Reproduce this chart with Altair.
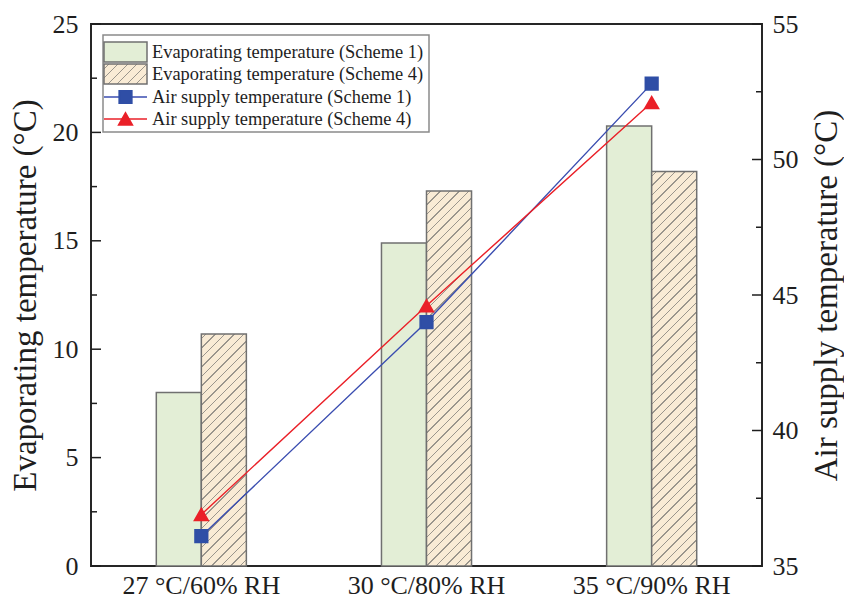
import math
import altair as alt
import pandas as pd

# ---------------- data ----------------
categories = ["27 °C/60% RH", "30 °C/80% RH", "35 °C/90% RH"]
evap_s1 = [8.0, 14.9, 20.3]
evap_s4 = [10.7, 17.3, 18.2]
air_s1 = [36.1, 44.0, 52.8]
air_s4 = [36.9, 44.6, 52.1]
left_major = [0, 5, 10, 15, 20, 25]
left_minor = [2.5, 7.5, 12.5, 17.5, 22.5]
right_major = [35, 40, 45, 50, 55]
right_minor = [37.5, 42.5, 47.5, 52.5]
legend_labels = [
    "Evaporating temperature (Scheme 1)",
    "Evaporating temperature (Scheme 4)",
    "Air supply temperature (Scheme 1)",
    "Air supply temperature (Scheme 4)",
]

# ---------------- style ----------------
W, H = 671, 542
FONT = "Liberation Serif"
GREEN = "#e3eed6"
BEIGE = "#f9ebd5"
HATCH = "#9a958c"
EDGE = "#707070"
BLUE = "#3a4db0"
BLUE_M = "#2f4ea6"
RED = "#ea2028"
DARK = "#1e1e1e"
LEFT_DOM = [0, 25]
RIGHT_DOM = [35, 55]
LABEL_SIZE = 26
TITLE_SIZE = 33


def hatch_fill(w, h, period=9.5, lw=1.0):
    total = w + h
    half = lw * math.sqrt(2) / 2
    stops = [{"offset": 0, "color": BEIGE}]
    c = period / 2
    while c - half < total:
        a = max(0.0, (c - half) / total)
        b = min(1.0, (c + half) / total)
        stops += [
            {"offset": a, "color": BEIGE},
            {"offset": a, "color": HATCH},
            {"offset": b, "color": HATCH},
            {"offset": b, "color": BEIGE},
        ]
        c += period
    stops.append({"offset": 1, "color": BEIGE})
    k = total / (w * w + h * h)
    return {"gradient": "linear", "stops": stops, "x1": 0, "y1": 0, "x2": k * w, "y2": k * h}


bars = pd.DataFrame(
    [{"category": c, "series": "S1", "value": v} for c, v in zip(categories, evap_s1)]
    + [{"category": c, "series": "S4", "value": v} for c, v in zip(categories, evap_s4)]
)
lines = pd.DataFrame(
    [{"category": c, "series": "S1", "value": v} for c, v in zip(categories, air_s1)]
    + [{"category": c, "series": "S4", "value": v} for c, v in zip(categories, air_s4)]
)
lmaj = pd.DataFrame({"value": left_major})
lmin = pd.DataFrame({"value": left_minor})
rmaj = pd.DataFrame({"value": right_major})
rmin = pd.DataFrame({"value": right_minor})
one = pd.DataFrame({"k": [0]})

xenc = alt.X(
    "category:N",
    sort=categories,
    scale=alt.Scale(paddingInner=0.6, paddingOuter=0.29),
    axis=alt.Axis(
        title=None, labelAngle=0, domain=False, ticks=False, tickSize=0,
        labelPadding=6, labelFont=FONT, labelFontSize=LABEL_SIZE, labelColor=DARK,
    ),
)
xoff = alt.XOffset("series:N", scale=alt.Scale(domain=["S1", "S4"], paddingInner=0, paddingOuter=0))

yL = alt.Y(
    "value:Q",
    scale=alt.Scale(domain=LEFT_DOM, nice=False, zero=False),
    axis=alt.Axis(
        orient="left", values=left_major, format="d", domain=False, ticks=False, tickSize=0,
        grid=False, labelPadding=13, labelFont=FONT, labelFontSize=LABEL_SIZE, labelColor=DARK,
        title="Evaporating temperature (°C)", titleFont=FONT, titleFontSize=TITLE_SIZE,
        titleFontWeight="normal", titleColor=DARK, titlePadding=10,
    ),
)
yR = alt.Y(
    "value:Q",
    scale=alt.Scale(domain=RIGHT_DOM, nice=False, zero=False),
    axis=alt.Axis(
        orient="right", values=right_major, format="d", domain=False, ticks=False, tickSize=0,
        grid=False, labelPadding=10, labelFont=FONT, labelFontSize=LABEL_SIZE, labelColor=DARK,
        title="Air supply temperature (°C)", titleFont=FONT, titleFontSize=TITLE_SIZE,
        titleFontWeight="normal", titleColor=DARK, titlePadding=12,
        titleAngle=270, titleBaseline="top",
    ),
)

step = W / (3 - 0.6 + 2 * 0.29)
bar_w = step * (1 - 0.6) / 2

left_layers = []
left_layers.append(
    alt.Chart(bars).transform_filter(alt.datum.series == "S1")
    .mark_bar(fill=GREEN, stroke=EDGE, strokeWidth=1.5)
    .encode(x=xenc, xOffset=xoff, y=yL)
)
for c, v in zip(categories, evap_s4):
    h = (v - LEFT_DOM[0]) / (LEFT_DOM[1] - LEFT_DOM[0]) * H
    left_layers.append(
        alt.Chart(bars)
        .transform_filter((alt.datum.series == "S4") & (alt.datum.category == c))
        .mark_bar(fill=hatch_fill(bar_w, h), stroke=EDGE, strokeWidth=1.5)
        .encode(x=xenc, xOffset=xoff, y=yL)
    )
left_layers.append(
    alt.Chart(lmaj).mark_rule(color=DARK, strokeWidth=1.5)
    .encode(y=yL, x=alt.value(0), x2=alt.value(10))
)
left_layers.append(
    alt.Chart(lmin).mark_rule(color=DARK, strokeWidth=1.5)
    .encode(y=yL, x=alt.value(0), x2=alt.value(6))
)
left = alt.layer(*left_layers)

right_layers = []
for s, col, mcol, shape, size in [("S1", BLUE, BLUE_M, "square", 150), ("S4", RED, RED, "triangle-up", 170)]:
    base = alt.Chart(lines).transform_filter(alt.datum.series == s)
    right_layers.append(base.mark_line(color=col, strokeWidth=1.4).encode(x=xenc, y=yR))
    right_layers.append(
        base.mark_point(shape=shape, filled=True, fill=mcol, stroke=mcol, size=size, opacity=1)
        .encode(x=xenc, y=yR)
    )
right_layers.append(
    alt.Chart(rmaj).mark_rule(color=DARK, strokeWidth=1.5)
    .encode(y=yR, x=alt.value(W), x2=alt.value(W - 10))
)
right_layers.append(
    alt.Chart(rmin).mark_rule(color=DARK, strokeWidth=1.5)
    .encode(y=yR, x=alt.value(W), x2=alt.value(W - 6))
)

# ---------------- legend (drawn in plot pixels) ----------------
LX0, LX1, LY0, LY1 = 12, 338, 11, 108
rows_y = [28, 50, 73, 95]
SW0, SW1 = 13, 56
TX = 61
right_layers.append(
    alt.Chart(one).mark_rect(fill="white", stroke="#8a8a8a", strokeWidth=1.5)
    .encode(x=alt.value(LX0), x2=alt.value(LX1), y=alt.value(LY0), y2=alt.value(LY1))
)
right_layers.append(
    alt.Chart(one).mark_rect(fill=GREEN, stroke=EDGE, strokeWidth=1.5)
    .encode(x=alt.value(SW0), x2=alt.value(SW1), y=alt.value(rows_y[0] - 10), y2=alt.value(rows_y[0] + 10))
)
right_layers.append(
    alt.Chart(one).mark_rect(fill=hatch_fill(SW1 - SW0, 20), stroke=EDGE, strokeWidth=1.5)
    .encode(x=alt.value(SW0), x2=alt.value(SW1), y=alt.value(rows_y[1] - 10), y2=alt.value(rows_y[1] + 10))
)
for i, (col, mcol, shape, size) in enumerate([(BLUE, BLUE_M, "square", 150), (RED, RED, "triangle-up", 170)]):
    ry = rows_y[2 + i]
    right_layers.append(
        alt.Chart(one).mark_rule(color=col, strokeWidth=1.4)
        .encode(x=alt.value(SW0), x2=alt.value(SW1), y=alt.value(ry))
    )
    right_layers.append(
        alt.Chart(one).mark_point(shape=shape, filled=True, fill=mcol, stroke=mcol, size=size, opacity=1)
        .encode(x=alt.value((SW0 + SW1) / 2), y=alt.value(ry))
    )
for i, lab in enumerate(legend_labels):
    right_layers.append(
        alt.Chart(one).mark_text(
            align="left", baseline="middle", font=FONT, fontSize=18.4, color=DARK, text=lab
        ).encode(x=alt.value(TX), y=alt.value(rows_y[i]))
    )

right = alt.layer(*right_layers)

chart = (
    alt.layer(left, right)
    .resolve_scale(y="independent")
    .properties(
        width=W,
        height=H,
        autosize=alt.AutoSizeParams(type="none"),
        padding={"left": 91, "top": 24, "right": 82, "bottom": 38},
        background="white",
    )
    .configure_view(stroke="#262626", strokeWidth=2)
)

chart.save("out.html", embed_options={"renderer": "svg", "actions": False})
